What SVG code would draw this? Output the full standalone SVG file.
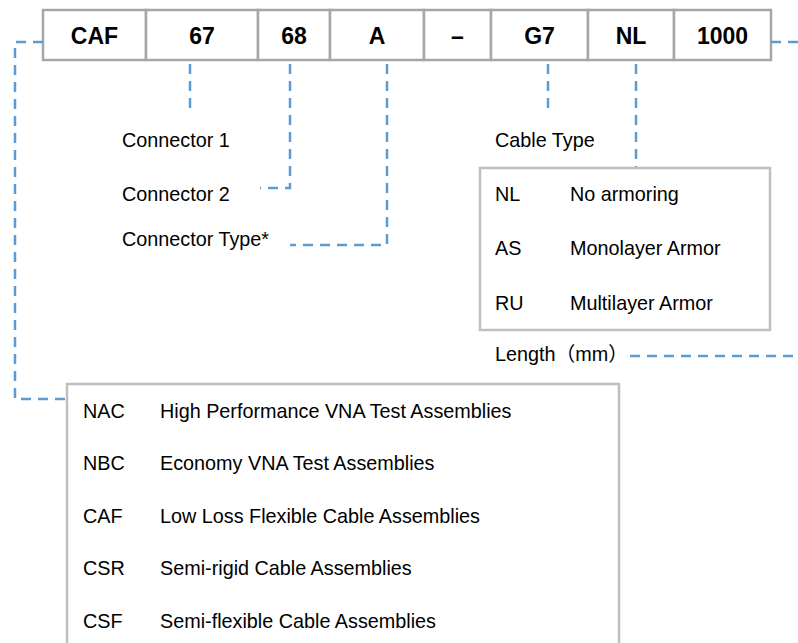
<svg xmlns="http://www.w3.org/2000/svg" width="798" height="643" viewBox="0 0 798 643">
<style>
.cell{fill:#fff;stroke:#a6a6a6;stroke-width:2.5}
.box{fill:#fff;stroke:#bfbfbf;stroke-width:2.5}
.code{font-family:"Liberation Sans",Arial,sans-serif;font-size:23px;font-weight:bold;fill:#000;text-anchor:middle}
.t{font-family:"Liberation Sans","Noto Sans CJK SC",Arial,sans-serif;font-size:19.8px;fill:#000}
.dash{fill:none;stroke:#5b9bd5;stroke-width:2.5;stroke-dasharray:10 7}
</style>
<rect width="798" height="643" fill="#fff"/>
<g id="code-row">
<rect class="cell" x="43" y="10" width="103" height="50"/>
<rect class="cell" x="146" y="10" width="112" height="50"/>
<rect class="cell" x="258" y="10" width="72" height="50"/>
<rect class="cell" x="330" y="10" width="94" height="50"/>
<rect class="cell" x="424" y="10" width="67" height="50"/>
<rect class="cell" x="491" y="10" width="97" height="50"/>
<rect class="cell" x="588" y="10" width="86" height="50"/>
<rect class="cell" x="674" y="10" width="97" height="50"/>
<text class="code" x="94.5" y="44">CAF</text>
<text class="code" x="202" y="44">67</text>
<text class="code" x="294" y="44">68</text>
<text class="code" x="377" y="44">A</text>
<text class="code" x="457.5" y="44">–</text>
<text class="code" x="539.5" y="44">G7</text>
<text class="code" x="631" y="44">NL</text>
<text class="code" x="722.5" y="44">1000</text>
</g>
<g id="connectors">
<path class="dash" d="M43 42 H15 V399 H67"/>
<path class="dash" d="M190 64 V112"/>
<path class="dash" d="M290 64 V188 H260"/>
<path class="dash" d="M387 64 V245 H290"/>
<path class="dash" d="M548 64 V112"/>
<path class="dash" d="M636 64 V168"/>
<path class="dash" d="M771 42 H798"/>
<path class="dash" d="M630 356 H798"/>
</g>
<g id="connector-labels">
<text class="t" x="122" y="147">Connector 1</text>
<text class="t" x="122" y="201">Connector 2</text>
<text class="t" x="122" y="246">Connector Type*</text>
</g>
<g id="cable-type">
<text class="t" x="495" y="147">Cable Type</text>
<rect class="box" x="480" y="168" width="290" height="162"/>
<text class="t" x="495" y="201">NL</text>
<text class="t" x="570" y="201">No armoring</text>
<text class="t" x="495" y="255">AS</text>
<text class="t" x="570" y="255">Monolayer Armor</text>
<text class="t" x="495" y="310">RU</text>
<text class="t" x="570" y="310">Multilayer Armor</text>
</g>
<g id="length">
<text class="t" x="495" y="361">Length（mm）</text>
</g>
<g id="series">
<rect class="box" x="67" y="384" width="552" height="270"/>
<text class="t" x="83" y="418">NAC</text>
<text class="t" x="160" y="418">High Performance VNA Test Assemblies</text>
<text class="t" x="83" y="470">NBC</text>
<text class="t" x="160" y="470">Economy VNA Test Assemblies</text>
<text class="t" x="83" y="523">CAF</text>
<text class="t" x="160" y="523">Low Loss Flexible Cable Assemblies</text>
<text class="t" x="83" y="575">CSR</text>
<text class="t" x="160" y="575">Semi-rigid Cable Assemblies</text>
<text class="t" x="83" y="628">CSF</text>
<text class="t" x="160" y="628">Semi-flexible Cable Assemblies</text>
</g>
</svg>
